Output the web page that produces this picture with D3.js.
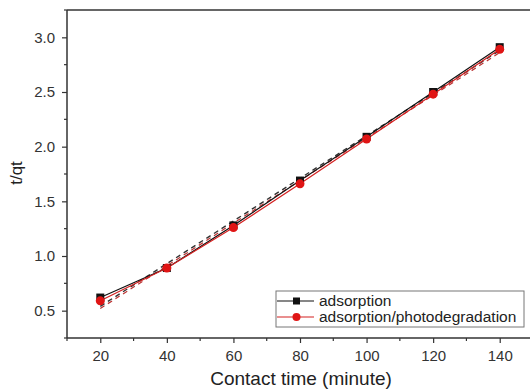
<!DOCTYPE html>
<html>
<head>
<meta charset="utf-8">
<script src="https://cdn.jsdelivr.net/npm/d3@7"></script>
<style>
  body { margin: 0; background: #fff; }
  text { font-family: "Liberation Sans", Arial, sans-serif; }
</style>
</head>
<body>
<svg id="chart" width="530" height="392"></svg>
<script>
// data
const contactTime = [20, 40, 60, 80, 100, 120, 140];
const adsorption = [0.62, 0.89, 1.28, 1.69, 2.09, 2.50, 2.91];
const adsPhoto = [0.59, 0.89, 1.26, 1.66, 2.07, 2.48, 2.89];
// linear fit lines (end points)
const fitTime = [20, 140];
const fitAdsorption = [0.54, 2.88];
const fitAdsPhoto = [0.52, 2.86];
const xTicks = [20, 40, 60, 80, 100, 120, 140];
const yTicks = [0.5, 1.0, 1.5, 2.0, 2.5, 3.0];
const legendNames = ["adsorption", "adsorption/photodegradation"];

const svg = d3.select("#chart");
const mLeft = 67, mRight = 533, mTop = 10, mBottom = 338;

const x = d3.scaleLinear().domain([10, 150]).range([mLeft, mRight]);
const y = d3.scaleLinear().domain([0.25, 3.25]).range([mBottom, mTop]);

const axisCol = "#333";

// frame top
svg.append("line").attr("x1", mLeft).attr("x2", mRight).attr("y1", mTop).attr("y2", mTop)
  .attr("stroke", axisCol).attr("stroke-width", 1.5);

// minor ticks
const xMinor = d3.range(10, 151, 10).filter(d => xTicks.indexOf(d) < 0);
const yMinor = d3.range(0.25, 3.26, 0.25).filter(d => !yTicks.some(t => Math.abs(t - d) < 1e-6));

const xAxis = d3.axisBottom(x).tickValues(xTicks).tickSize(5).tickPadding(7).tickFormat(d3.format("d"));
const gx = svg.append("g").attr("transform", "translate(0," + mBottom + ")").call(xAxis);
gx.append("g").selectAll("line").data(xMinor).enter().append("line")
  .attr("x1", d => x(d)).attr("x2", d => x(d)).attr("y1", 0).attr("y2", 3)
  .attr("stroke", axisCol).attr("stroke-width", 1.2);

const yAxis = d3.axisLeft(y).tickValues(yTicks).tickSize(5).tickPadding(7).tickFormat(d3.format(".1f"));
const gy = svg.append("g").attr("transform", "translate(" + mLeft + ",0)").call(yAxis);
gy.append("g").selectAll("line").data(yMinor).enter().append("line")
  .attr("x1", 0).attr("x2", -3).attr("y1", d => y(d)).attr("y2", d => y(d))
  .attr("stroke", axisCol).attr("stroke-width", 1.2);

[gx, gy].forEach(g => {
  g.select(".domain").attr("stroke", axisCol).attr("stroke-width", 1.5);
  g.selectAll(".tick line").attr("stroke", axisCol).attr("stroke-width", 1.2);
  g.selectAll(".tick text").attr("fill", "#333").attr("font-size", 15)
    .attr("font-family", "Liberation Sans, Arial, sans-serif");
});
gx.select(".domain").attr("d", "M" + mLeft + ",0H" + mRight);
gy.select(".domain").attr("d", "M0," + mBottom + "V" + mTop);

// axis titles
svg.append("text").attr("x", 301).attr("y", 385).attr("text-anchor", "middle")
  .attr("font-size", 19).attr("fill", "#222").text("Contact time (minute)");
svg.append("text").attr("transform", "translate(22,173) rotate(-90)").attr("text-anchor", "middle")
  .attr("font-size", 17).attr("fill", "#222").text("t/qt");

// fit lines
const fitLine = d3.line().x(d => x(d[0])).y(d => y(d[1]));
svg.append("path").datum(fitTime.map((t, i) => [t, fitAdsorption[i]]))
  .attr("d", fitLine).attr("fill", "none").attr("stroke", "#333")
  .attr("stroke-width", 1.4).attr("stroke-dasharray", "5,4");
svg.append("path").datum(fitTime.map((t, i) => [t, fitAdsPhoto[i]]))
  .attr("d", fitLine).attr("fill", "none").attr("stroke", "#b33")
  .attr("stroke-width", 1.2).attr("stroke-dasharray", "5,4");

// data lines
const line = d3.line().x(d => x(d[0])).y(d => y(d[1]));
const blackPts = contactTime.map((t, i) => [t, adsorption[i]]);
const redPts = contactTime.map((t, i) => [t, adsPhoto[i]]);

svg.append("path").datum(blackPts).attr("d", line).attr("fill", "none")
  .attr("stroke", "#111").attr("stroke-width", 1.2);
svg.append("path").datum(redPts).attr("d", line).attr("fill", "none")
  .attr("stroke", "#d42020").attr("stroke-width", 1.2);

svg.selectAll("rect.sq").data(blackPts).enter().append("rect").attr("class", "sq")
  .attr("x", d => x(d[0]) - 4).attr("y", d => y(d[1]) - 4)
  .attr("width", 8).attr("height", 8).attr("fill", "#111");
svg.selectAll("circle.ci").data(redPts).enter().append("circle").attr("class", "ci")
  .attr("cx", d => x(d[0])).attr("cy", d => y(d[1])).attr("r", 4.5)
  .attr("fill", "#e01515");

// legend
const lg = svg.append("g");
lg.append("rect").attr("x", 276).attr("y", 291).attr("width", 248).attr("height", 36)
  .attr("fill", "#fff").attr("stroke", "#777").attr("stroke-width", 1);
const rowY = [301, 317];
const legendCol = ["#111", "#d42020"];
legendNames.forEach((name, i) => {
  lg.append("line").attr("x1", 277).attr("x2", 314).attr("y1", rowY[i]).attr("y2", rowY[i])
    .attr("stroke", legendCol[i]).attr("stroke-width", 1.2);
  if (i === 0) {
    lg.append("rect").attr("x", 293).attr("y", rowY[i] - 3.5).attr("width", 7).attr("height", 7)
      .attr("fill", legendCol[i]);
  } else {
    lg.append("circle").attr("cx", 296.5).attr("cy", rowY[i]).attr("r", 4).attr("fill", "#e01515");
  }
  lg.append("text").attr("x", 319).attr("y", rowY[i] + 5).attr("font-size", 15.5)
    .attr("fill", "#222").text(name);
});
</script>
</body>
</html>
